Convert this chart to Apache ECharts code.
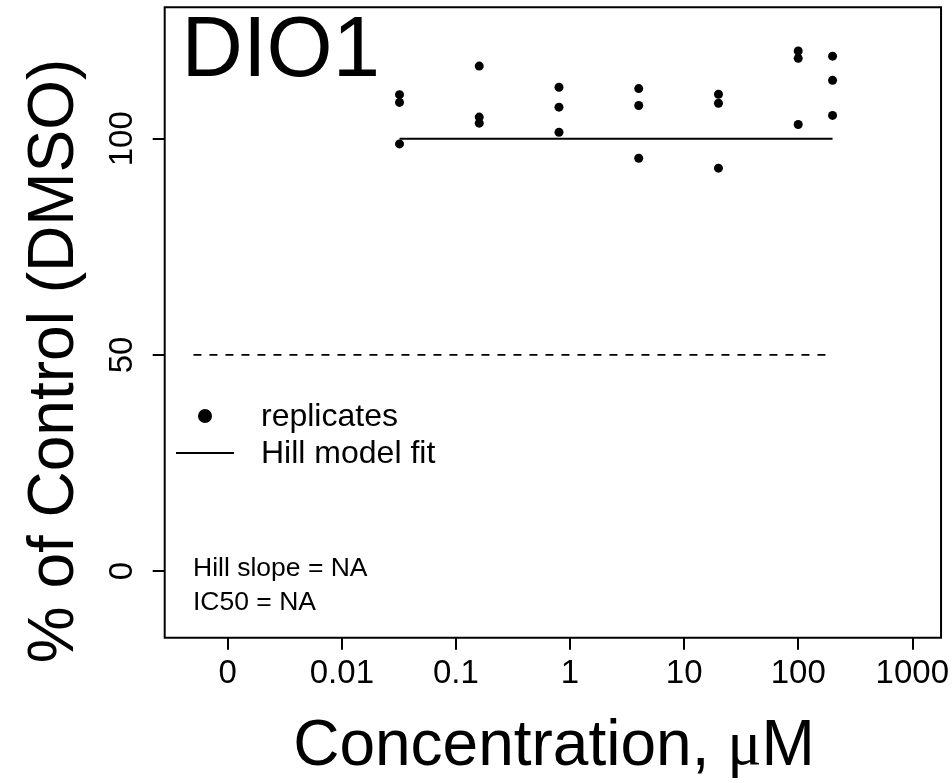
<!DOCTYPE html>
<html>
<head>
<meta charset="utf-8">
<script src="https://cdn.jsdelivr.net/npm/echarts@6/dist/echarts.min.js"></script>
<style>
html,body{margin:0;padding:0;background:#fff;}
#chart{width:952px;height:783px;}
</style>
</head>
<body>
<div id="chart"></div>
<script>
// ---- data ----
const concentrations = [0.032, 0.16, 0.8, 4, 20, 100, 200]; // µM
const replicate1 = [110.2, 116.8, 111.9, 111.6, 110.3, 120.3, 119.1];
const replicate2 = [108.4, 105.0, 107.3, 107.7, 108.2, 118.6, 113.5];
const replicate3 = [98.8, 103.6, 101.5, 95.5, 93.2, 103.3, 105.4];
const fitX = [0.032, 200];
const fitY = [100, 100];
const halfX = [0.0005, 200];
const halfY = [50, 50];
const xTickValues = [0.001, 0.01, 0.1, 1, 10, 100, 1000];
const xTickLabels = ['0', '0.01', '0.1', '1', '10', '100', '1000'];
const yTickValues = [0, 50, 100];
const yTickLabels = ['0', '50', '100'];
const titleText = 'DIO1';
const legendNames = ['replicates', 'Hill model fit'];
const statsText = ['Hill slope = NA', 'IC50 = NA'];

// ---- build ----
const FONT = "'Liberation Sans', Arial, Helvetica, sans-serif";
const lg = v => Math.log10(v);
const scatterData = [];
concentrations.forEach((c, i) => {
  [replicate1, replicate2, replicate3].forEach(r => scatterData.push([lg(c), r[i]]));
});
const xTickPos = xTickValues.map(lg);

const chart = echarts.init(document.getElementById('chart'), null, {renderer: 'canvas'});
const option = {
  animation: false,
  backgroundColor: '#ffffff',
  grid: {
    left: 164.7, top: 7.3, right: 10.6, bottom: 145.3,
    show: true, borderColor: '#000', borderWidth: 2, backgroundColor: 'transparent'
  },
  xAxis: {
    type: 'value',
    min: -3.553, max: 3.252,
    axisLine: {show: false, onZero: false},
    splitLine: {show: false},
    axisTick: {show: true, customValues: xTickPos, length: 12, lineStyle: {color: '#000', width: 2}},
    axisLabel: {
      show: true, customValues: xTickPos, margin: 20,
      fontSize: 33, fontFamily: FONT, color: '#000',
      formatter: v => {
        let best = 0, d = Infinity;
        xTickPos.forEach((p, i) => { if (Math.abs(p - v) < d) { d = Math.abs(p - v); best = i; } });
        return xTickLabels[best];
      }
    }
  },
  yAxis: {
    type: 'value',
    min: -15.4, max: 130.4,
    axisLine: {show: false, onZero: false},
    splitLine: {show: false},
    axisTick: {show: true, customValues: yTickValues, length: 12, lineStyle: {color: '#000', width: 2}},
    axisLabel: {
      show: true, customValues: yTickValues, rotate: 90, margin: 25,
      fontSize: 33, fontFamily: FONT, color: '#000',
      formatter: v => {
        const i = yTickValues.indexOf(Math.round(v));
        return i >= 0 ? yTickLabels[i] : '';
      }
    }
  },
  series: [
    {
      type: 'line', name: 'half',
      data: halfX.map((x, i) => [lg(x), halfY[i]]),
      symbol: 'none', silent: true,
      lineStyle: {color: '#000', width: 1.8, type: [8, 8], opacity: 1}
    },
    {
      type: 'line', name: legendNames[1],
      data: fitX.map((x, i) => [lg(x), fitY[i]]),
      symbol: 'none', silent: true,
      lineStyle: {color: '#000', width: 2, opacity: 1}
    },
    {
      type: 'scatter', name: legendNames[0],
      data: scatterData,
      symbol: 'circle', symbolSize: 9,
      itemStyle: {color: '#000', opacity: 1}
    }
  ],
  graphic: [
    {type: 'text', x: 181.6, y: 52.5,
     style: {text: titleText, font: '85px ' + FONT, fill: '#000', align: 'left', verticalAlign: 'middle', textAlign: 'left', textVerticalAlign: 'middle'}},
    {type: 'text', x: 55, y: 361, rotation: Math.PI / 2,
     style: {text: '% of Control (DMSO)', font: '64px ' + FONT, fill: '#000', align: 'center', verticalAlign: 'middle', textAlign: 'center', textVerticalAlign: 'middle'}},
    {type: 'text', x: 554, y: 747,
     style: {text: 'Concentration, {mu|μ}M', font: '64px ' + FONT, fill: '#000', align: 'center', verticalAlign: 'middle', textAlign: 'center', textVerticalAlign: 'middle',
             rich: {mu: {fontFamily: "'Liberation Serif', 'DejaVu Serif', serif", fontSize: 64, fill: '#000'}}}},
    {type: 'circle', shape: {cx: 205, cy: 416, r: 7}, style: {fill: '#000'}},
    {type: 'line', shape: {x1: 176, y1: 453, x2: 234, y2: 453}, style: {stroke: '#000', lineWidth: 2}},
    {type: 'text', x: 261, y: 417,
     style: {text: legendNames[0], font: '32px ' + FONT, fill: '#000', align: 'left', verticalAlign: 'middle', textAlign: 'left', textVerticalAlign: 'middle'}},
    {type: 'text', x: 261, y: 454.5,
     style: {text: legendNames[1], font: '32px ' + FONT, fill: '#000', align: 'left', verticalAlign: 'middle', textAlign: 'left', textVerticalAlign: 'middle'}},
    {type: 'text', x: 193, y: 569,
     style: {text: statsText[0], font: '26.5px ' + FONT, fill: '#000', align: 'left', verticalAlign: 'middle', textAlign: 'left', textVerticalAlign: 'middle'}},
    {type: 'text', x: 193, y: 603,
     style: {text: statsText[1], font: '26.5px ' + FONT, fill: '#000', align: 'left', verticalAlign: 'middle', textAlign: 'left', textVerticalAlign: 'middle'}}
  ]
};
chart.setOption(option);
</script>
</body>
</html>
